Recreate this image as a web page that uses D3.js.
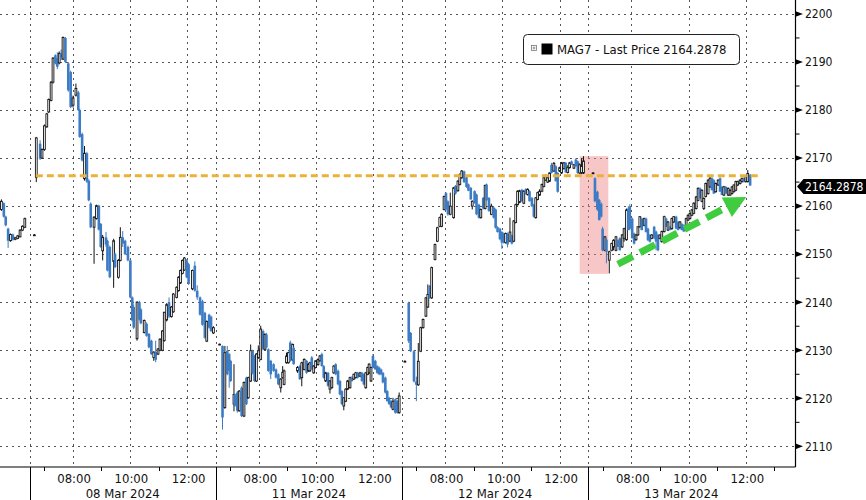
<!DOCTYPE html>
<html><head><meta charset="utf-8">
<script src="https://cdn.jsdelivr.net/npm/d3@7"></script>
<style>
html,body{margin:0;padding:0;background:#fff;}
svg{display:block;}
text{font-family:'DejaVu Sans Condensed','DejaVu Sans',sans-serif;font-stretch:condensed;fill:#111;}
</style></head><body>
<svg id="chart" width="866" height="500"></svg>
<script>
// ---------- DATA ----------
const dayLabels = ["07 Mar 2024","08 Mar 2024","11 Mar 2024","12 Mar 2024","13 Mar 2024"];
const timeTickLabels = ["08:00","10:00","12:00"];
const minorTickHours = ["07:00","09:00","11:00","13:00"];
const yTickValues = [2110,2120,2130,2140,2150,2160,2170,2180,2190,2200];
const seriesName = "MAG7 - Last Price";
const lastPrice = 2164.2878;
const refLevel = 2166.3;
const refLevelSpan = [["08 Mar 2024","06:43"],["13 Mar 2024","12:25"]];
const highlightBox = {from:["12 Mar 2024","12:42"], to:["13 Mar 2024","07:12"], low:2145.9, high:2170.4};
const trendArrow = {from:["13 Mar 2024","07:32",2147.9], to:["13 Mar 2024","12:01",2161.9]};

// bars: [time, open, high, low, close]
const mar07 = [
["12:01",2159.3,2161.4,2159.0,2161.0],["12:06",2160.6,2160.8,2157.6,2157.8],["12:10",2157.8,2158.0,2155.8,2156.0],
["12:15",2155.3,2155.5,2151.3,2152.8],["12:20",2152.8,2154.3,2152.6,2154.1],["12:25",2154.1,2154.3,2152.8,2153.0],
["12:30",2153.1,2153.6,2152.9,2153.4],["12:35",2153.3,2154.0,2153.1,2153.8],["12:40",2153.6,2155.2,2153.5,2155.0],
["12:45",2155.0,2156.0,2154.8,2155.8],["12:50",2155.6,2157.6,2155.4,2157.4]
];
const mar08 = [
["06:40",2154.0,2154.2,2153.8,2154.0],["06:44",2166.0,2174.4,2165.0,2174.2],["06:52",2173.0,2173.7,2169.6,2169.9],
["06:56",2170.0,2172.0,2169.8,2171.8],["07:01",2171.8,2177.0,2171.5,2176.7],["07:06",2176.5,2179.4,2176.3,2179.2],
["07:10",2179.6,2182.4,2179.4,2182.2],["07:15",2182.0,2186.0,2181.8,2185.8],["07:19",2185.8,2191.0,2185.5,2190.8],
["07:24",2191.4,2191.6,2189.5,2189.7],["07:28",2190.8,2192.0,2188.5,2189.0],["07:32",2189.8,2192.2,2189.5,2191.8],
["07:36",2191.8,2192.6,2190.4,2190.9],["07:40",2190.6,2195.3,2190.4,2195.1],["07:45",2195.0,2195.2,2189.8,2190.0],
["07:51",2189.7,2190.0,2183.8,2184.1],["07:56",2187.9,2188.2,2180.4,2180.6],["08:01",2181.0,2183.0,2180.5,2182.5],
["08:07",2183.1,2185.5,2182.8,2184.5],["08:12",2183.7,2184.0,2179.8,2180.0],["08:15",2180.0,2180.3,2174.2,2174.4],
["08:20",2175.0,2175.3,2169.3,2169.5],["08:25",2165.7,2172.5,2165.3,2171.0],["08:30",2171.0,2171.3,2164.8,2165.1],
["08:34",2165.3,2165.6,2161.0,2161.2],["08:38",2160.5,2160.8,2155.4,2155.6],["08:45",2155.6,2157.9,2148.0,2157.7],
["08:50",2157.4,2160.3,2157.2,2160.1],["08:55",2160.1,2160.3,2154.9,2155.1],["08:59",2156.3,2156.5,2151.3,2151.5],
["09:03",2150.7,2154.0,2148.7,2153.5],["09:10",2153.5,2154.6,2151.5,2152.0],["09:13",2152.8,2153.0,2146.4,2146.6],
["09:18",2151.5,2151.8,2145.0,2145.2],["09:26",2148.5,2153.2,2143.0,2152.8],["09:29",2150.0,2150.3,2147.1,2147.3],
["09:36",2145.2,2149.0,2144.9,2148.7],["09:40",2148.7,2155.6,2148.5,2153.5],["09:45",2153.5,2154.8,2151.5,2152.2],
["09:50",2152.8,2153.0,2149.8,2150.0],["09:56",2151.5,2151.8,2148.5,2148.7],["10:01",2148.7,2148.9,2140.8,2141.0],
["10:05",2141.0,2141.2,2136.0,2136.2],["10:08",2139.0,2139.5,2134.4,2134.7],["10:15",2132.4,2140.2,2132.0,2140.0],
["10:20",2140.0,2140.3,2136.2,2136.4],["10:23",2138.5,2138.8,2135.4,2135.6],["10:30",2133.7,2136.4,2133.5,2136.2],
["10:35",2135.5,2135.8,2132.8,2133.0],["10:40",2133.4,2133.6,2130.4,2130.6],["10:45",2132.0,2132.2,2129.0,2129.2],
["10:50",2128.5,2129.8,2127.8,2129.6],["10:54",2129.6,2132.0,2127.5,2128.0],["10:59",2129.2,2130.4,2129.0,2130.3],
["11:03",2130.0,2132.5,2129.8,2132.3],["11:08",2130.0,2134.2,2129.8,2134.0],["11:12",2132.0,2138.0,2131.8,2137.9],
["11:17",2136.3,2139.8,2136.0,2139.5],["11:22",2140.0,2141.0,2136.7,2137.0],["11:27",2137.0,2139.2,2136.8,2139.0],
["11:31",2138.0,2141.9,2137.8,2141.7],["11:38",2141.0,2143.3,2140.8,2143.1],["11:42",2142.4,2145.4,2142.2,2145.2],
["11:46",2144.0,2146.8,2143.8,2146.6],["11:50",2146.0,2148.9,2145.8,2148.7],["11:54",2146.7,2149.4,2146.5,2149.2],
["11:59",2148.7,2149.0,2145.0,2145.2],["12:03",2147.9,2148.2,2143.6,2143.8],["12:11",2142.8,2146.8,2142.5,2146.6],
["12:16",2147.6,2148.5,2142.2,2142.4],["12:21",2142.4,2143.5,2140.5,2141.0],["12:27",2141.0,2141.2,2137.2,2137.4],
["12:32",2140.2,2140.5,2135.1,2135.3],["12:37",2137.8,2138.0,2132.4,2132.6],["12:41",2131.9,2136.2,2131.7,2136.0],
["12:46",2137.4,2137.6,2134.5,2134.7],["12:50",2137.0,2137.2,2133.8,2134.0],["12:55",2133.6,2135.0,2133.4,2134.7]
];
const mar11 = [
["06:38",2131.25,2131.4,2131.1,2131.25],["06:44",2130.9,2131.0,2113.5,2116.0],["06:49",2118.1,2130.9,2117.8,2129.5],
["06:54",2129.9,2130.9,2124.8,2125.0],["06:58",2129.2,2129.4,2122.2,2125.7],["07:01",2127.8,2128.0,2123.4,2123.6],
["07:08",2118.8,2127.1,2117.3,2120.8],["07:10",2120.8,2121.0,2118.2,2118.4],["07:15",2121.2,2121.5,2117.0,2117.4],
["07:19",2117.4,2121.7,2117.2,2121.5],["07:24",2122.2,2122.5,2116.1,2116.3],["07:29",2116.3,2123.5,2116.1,2123.3],
["07:34",2124.3,2124.5,2118.6,2118.8],["07:38",2120.1,2124.5,2119.9,2124.3],["07:43",2123.6,2131.2,2123.4,2129.9],
["07:47",2129.9,2130.1,2125.0,2125.2],["07:51",2128.8,2129.0,2123.4,2123.6],["07:55",2123.6,2129.4,2123.4,2129.2],
["07:59",2128.5,2131.0,2128.2,2129.9],["08:04",2128.1,2135.1,2127.9,2134.4],["08:09",2134.0,2134.3,2130.0,2130.2],
["08:13",2130.2,2133.5,2130.0,2133.3],["08:16",2133.3,2133.6,2130.4,2130.6],["08:20",2130.2,2130.4,2125.5,2125.7],
["08:25",2127.8,2128.0,2124.0,2125.0],["08:31",2127.1,2127.3,2125.5,2125.7],["08:36",2126.0,2126.2,2124.1,2124.3],
["08:41",2125.0,2125.2,2122.7,2122.9],["08:46",2122.2,2124.2,2121.2,2124.0],["08:50",2124.3,2126.7,2124.1,2125.4],
["08:53",2122.9,2126.0,2122.7,2125.7],["08:58",2127.4,2129.5,2127.2,2128.8],["09:02",2127.4,2129.7,2127.2,2129.5],
["09:06",2131.6,2132.0,2127.6,2127.8],["09:11",2128.0,2131.4,2127.8,2131.2],["09:13",2130.5,2130.7,2127.0,2127.1],
["09:21",2125.7,2126.7,2125.3,2126.4],["09:26",2126.7,2127.0,2123.8,2124.0],["09:30",2124.3,2127.6,2122.5,2127.4],
["09:35",2126.0,2128.3,2125.8,2128.1],["09:40",2127.8,2128.0,2125.1,2125.3],["09:44",2125.7,2127.3,2125.5,2127.1],
["09:47",2125.7,2127.6,2125.5,2127.4],["09:51",2128.5,2128.8,2126.0,2126.0],["09:55",2125.3,2126.9,2125.1,2126.7],
["09:59",2126.4,2127.9,2126.2,2127.8],["10:04",2127.0,2128.3,2126.8,2128.1],["10:08",2127.8,2129.0,2127.6,2128.8],
["10:12",2129.2,2129.5,2126.6,2126.7],["10:16",2126.7,2126.9,2124.1,2124.3],["10:20",2123.6,2125.5,2123.4,2125.3],
["10:25",2125.3,2125.5,2122.4,2122.6],["10:29",2121.9,2123.8,2121.0,2123.6],["10:33",2122.2,2124.5,2122.0,2124.3],
["10:37",2125.3,2126.9,2125.1,2126.7],["10:41",2127.1,2127.3,2124.8,2125.0],["10:46",2125.7,2126.0,2122.7,2122.9],
["10:50",2123.6,2123.8,2120.6,2120.8],["10:54",2121.5,2121.7,2118.6,2118.8],["10:58",2118.4,2120.2,2117.5,2120.1],
["11:02",2119.4,2122.1,2119.2,2121.9],["11:06",2121.9,2123.8,2121.7,2123.6],["11:11",2122.2,2124.5,2122.0,2124.3],
["11:15",2124.3,2124.6,2123.4,2123.6],["11:19",2124.0,2125.1,2123.8,2125.0],["11:23",2124.3,2125.5,2124.1,2125.3],
["11:27",2125.3,2125.5,2124.1,2124.3],["11:32",2124.6,2125.5,2124.4,2125.3],["11:36",2125.3,2125.5,2123.4,2123.6],
["11:40",2125.0,2125.2,2122.7,2122.9],["11:44",2122.2,2125.5,2122.0,2125.3],["11:48",2125.0,2126.6,2124.8,2126.4],
["11:51",2125.3,2127.3,2125.1,2127.1],["11:55",2123.6,2126.6,2123.4,2126.4],["11:59",2128.8,2129.2,2126.2,2126.4],
["12:04",2127.8,2128.0,2126.0,2126.0],["12:08",2126.7,2126.9,2125.1,2125.3],["12:12",2126.4,2126.6,2124.8,2125.0],
["12:16",2126.0,2126.2,2124.8,2125.0],["12:20",2125.3,2125.5,2123.1,2123.3],["12:25",2124.3,2124.5,2121.0,2121.2],
["12:29",2121.5,2121.7,2119.3,2119.4],["12:33",2120.1,2120.3,2118.6,2118.8],["12:37",2119.4,2119.6,2117.9,2118.1],
["12:41",2117.7,2120.1,2117.5,2119.4],["12:46",2119.8,2120.0,2116.8,2117.0],["12:50",2119.4,2119.6,2116.8,2117.0],
["12:54",2117.0,2121.2,2116.8,2120.5]
];
const mar12 = [
["06:36",2127.7,2127.9,2127.5,2127.7],["06:44",2139.9,2140.1,2131.5,2131.9],["06:48",2133.6,2133.8,2129.6,2129.8],
["06:55",2129.8,2130.0,2123.3,2123.5],["07:00",2123.5,2124.5,2119.4,2122.8],["07:04",2122.8,2131.5,2122.6,2127.7],
["07:09",2129.8,2134.9,2129.6,2134.7],["07:14",2134.7,2136.6,2134.5,2136.4],["07:20",2137.1,2141.1,2136.9,2140.9],
["07:24",2139.0,2143.7,2138.8,2141.6],["07:28",2143.4,2143.6,2140.7,2140.9],["07:32",2140.9,2147.4,2140.7,2147.2],
["07:39",2148.9,2152.2,2148.7,2152.0],["07:44",2152.7,2155.7,2152.5,2155.5],["07:49",2155.8,2157.8,2155.6,2157.6],
["07:53",2155.8,2158.5,2155.6,2158.3],["07:58",2159.3,2162.2,2159.1,2162.0],["08:02",2162.7,2162.9,2159.1,2159.3],
["08:06",2161.0,2161.2,2158.0,2158.3],["08:11",2158.3,2162.8,2158.1,2160.0],["08:18",2157.6,2164.0,2157.4,2163.8],
["08:22",2164.2,2164.4,2162.4,2162.6],["08:27",2163.2,2165.4,2163.0,2165.2],["08:31",2164.5,2166.8,2164.3,2166.6],
["08:35",2165.9,2167.5,2165.7,2167.3],["08:40",2167.2,2167.4,2164.8,2165.0],["08:45",2166.0,2166.2,2163.8,2164.0],
["08:49",2164.5,2164.7,2163.1,2163.2],["08:54",2163.8,2164.0,2161.3,2161.4],["08:57",2160.0,2161.2,2159.3,2161.0],
["09:02",2163.1,2163.3,2160.5,2160.6],["09:06",2162.4,2162.6,2158.1,2158.3],["09:11",2160.3,2160.5,2157.4,2157.6],
["09:15",2157.6,2159.5,2157.4,2159.3],["09:20",2161.7,2161.9,2159.3,2159.5],["09:24",2159.5,2164.5,2159.3,2164.3],
["09:27",2164.5,2164.7,2161.0,2161.2],["09:32",2161.7,2161.9,2158.8,2159.0],["09:37",2158.3,2160.5,2158.1,2160.0],
["09:42",2159.7,2159.9,2157.4,2157.6],["09:46",2159.3,2159.5,2155.3,2155.5],["09:50",2155.6,2155.8,2154.5,2154.6],
["09:55",2155.3,2155.5,2152.9,2153.1],["09:59",2154.6,2154.8,2151.1,2152.4],["10:03",2154.3,2154.5,2152.2,2152.4],
["10:07",2152.4,2154.5,2152.2,2154.3],["10:11",2154.3,2154.5,2151.4,2152.0],["10:16",2152.7,2157.6,2152.5,2154.6],
["10:20",2153.9,2154.1,2152.0,2152.2],["10:24",2152.7,2157.1,2152.5,2156.9],["10:28",2156.6,2160.5,2156.4,2160.3],
["10:32",2160.3,2163.3,2160.1,2163.1],["10:36",2160.8,2163.4,2160.6,2163.2],["10:41",2163.4,2163.6,2160.8,2161.0],
["10:45",2160.6,2163.3,2160.4,2163.1],["10:49",2163.5,2163.7,2162.4,2162.6],["10:53",2162.4,2163.7,2162.2,2163.5],
["10:57",2163.1,2163.3,2161.0,2161.0],["11:02",2161.7,2161.9,2159.8,2160.0],["11:06",2160.3,2160.5,2157.6,2157.8],
["11:10",2157.6,2161.9,2157.4,2161.7],["11:14",2161.4,2163.0,2161.2,2162.8],["11:18",2162.3,2163.5,2162.1,2163.1],
["11:23",2163.1,2164.7,2162.9,2164.5],["11:27",2164.1,2166.1,2163.9,2165.9],["11:31",2165.4,2166.6,2165.2,2166.3],
["11:35",2165.0,2166.3,2164.8,2165.9],["11:39",2165.2,2167.0,2165.0,2166.9],["11:43",2168.6,2169.0,2166.8,2166.9],
["11:48",2167.3,2169.2,2167.1,2168.9],["11:52",2168.3,2168.5,2165.1,2165.2],["11:56",2166.9,2167.1,2162.8,2163.0],
["12:00",2167.3,2168.2,2167.1,2168.0],["12:04",2166.9,2169.2,2166.7,2169.0],["12:09",2167.8,2169.2,2167.6,2169.0],
["12:13",2169.0,2169.2,2167.0,2167.0],["12:17",2167.0,2168.5,2166.8,2168.0],["12:21",2168.0,2169.2,2167.8,2169.0],
["12:25",2169.3,2169.5,2168.6,2168.6],["12:30",2167.9,2168.8,2167.7,2168.6],["12:34",2169.7,2170.0,2168.2,2168.3],
["12:38",2169.3,2169.5,2166.7,2166.9],["12:42",2166.9,2168.9,2166.7,2168.6],["12:46",2166.9,2170.0,2166.7,2168.3],
["12:50",2166.9,2170.4,2166.7,2169.4]
];
const mar13 = [
["06:40",2166.9,2167.1,2166.7,2166.9],["06:44",2165.8,2166.0,2160.8,2161.0],["06:49",2163.0,2163.2,2159.0,2159.3],
["06:53",2161.3,2161.5,2157.0,2157.1],["06:57",2160.5,2160.8,2157.6,2157.8],["07:00",2155.3,2155.7,2150.6,2150.8],
["07:05",2150.8,2153.8,2150.6,2153.6],["07:08",2153.0,2153.3,2148.1,2150.5],["07:14",2148.75,2150.7,2146.0,2150.5],
["07:19",2150.8,2152.4,2150.6,2152.2],["07:23",2151.5,2153.1,2150.8,2152.9],["07:28",2150.8,2153.8,2150.6,2153.6],
["07:32",2152.9,2153.1,2151.5,2151.5],["07:36",2153.3,2153.5,2150.8,2150.8],["07:41",2151.5,2154.2,2151.3,2154.0],
["07:45",2153.3,2155.5,2152.6,2155.3],["07:50",2153.0,2159.5,2152.8,2159.2],["07:54",2159.5,2160.0,2155.0,2155.0],
["07:57",2159.8,2160.4,2155.0,2155.3],["08:02",2157.4,2157.6,2153.3,2153.3],["08:06",2154.3,2154.5,2152.0,2152.2],
["08:10",2153.0,2154.2,2152.8,2154.0],["08:14",2154.0,2155.8,2153.8,2155.7],["08:18",2155.7,2157.9,2155.5,2157.8],
["08:22",2157.4,2157.6,2155.0,2155.0],["08:27",2156.0,2157.6,2155.8,2157.4],["08:31",2157.4,2157.6,2154.5,2154.6],
["08:35",2155.3,2155.5,2152.7,2152.9],["08:39",2154.0,2154.2,2152.4,2152.6],["08:43",2153.3,2154.2,2153.1,2154.0],
["08:48",2155.7,2155.9,2153.1,2153.3],["08:52",2154.7,2154.9,2150.8,2152.6],["08:56",2154.0,2154.2,2150.6,2150.8],
["09:00",2153.3,2154.1,2153.1,2154.0],["09:04",2152.6,2154.9,2152.4,2154.7],["09:09",2154.7,2158.0,2154.5,2157.8],
["09:13",2157.4,2157.6,2155.7,2155.7],["09:17",2155.0,2156.9,2154.8,2156.7],["09:21",2155.7,2155.9,2155.0,2155.0],
["09:25",2155.3,2157.6,2155.1,2157.4],["09:29",2156.7,2157.9,2156.5,2157.8],["09:34",2157.8,2158.0,2155.3,2155.3],
["09:38",2156.7,2156.9,2155.0,2155.0],["09:42",2155.5,2156.9,2155.3,2156.7],["09:46",2156.3,2156.5,2155.0,2155.0],
["09:50",2156.0,2156.2,2154.7,2154.7],["09:55",2155.3,2157.6,2155.1,2157.4],["09:59",2157.1,2158.3,2156.9,2158.1],
["10:03",2157.4,2158.7,2157.2,2158.5],["10:07",2158.1,2159.4,2157.9,2159.2],["10:11",2158.5,2160.8,2158.3,2160.6],
["10:16",2159.5,2162.1,2159.3,2161.9],["10:20",2161.2,2163.9,2161.0,2163.7],["10:24",2163.7,2163.9,2161.6,2161.6],
["10:28",2161.0,2163.5,2160.8,2163.3],["10:32",2159.5,2161.8,2159.2,2161.6],["10:36",2162.0,2164.9,2161.8,2164.7],
["10:41",2162.6,2165.6,2162.4,2165.4],["10:45",2164.0,2166.1,2163.8,2165.8],["10:49",2165.8,2166.0,2163.3,2163.3],
["10:53",2165.4,2165.6,2162.6,2162.6],["10:57",2163.0,2164.9,2162.8,2164.7],["11:02",2164.4,2165.6,2164.2,2165.4],
["11:06",2165.8,2166.0,2163.0,2163.0],["11:10",2164.0,2164.2,2162.3,2162.3],["11:14",2162.3,2164.2,2162.1,2164.0],
["11:18",2164.0,2164.2,2162.6,2162.6],["11:23",2162.3,2163.9,2162.1,2163.7],["11:27",2162.3,2163.5,2162.1,2163.3],
["11:31",2162.6,2164.2,2162.4,2164.0],["11:35",2163.0,2164.5,2162.8,2164.4],["11:39",2163.3,2165.3,2163.1,2165.1],
["11:43",2164.4,2165.3,2164.2,2165.1],["11:48",2164.7,2165.6,2164.5,2165.4],["11:52",2165.1,2165.9,2164.9,2165.8],
["11:56",2165.8,2166.0,2164.9,2165.1],["12:00",2165.1,2166.3,2164.9,2166.1],["12:04",2165.1,2167.5,2164.9,2166.8],
["12:09",2166.5,2166.7,2164.2,2164.2878]
];
const seriesByDay = [mar07, mar08, mar11, mar12, mar13];

// ---------- LAYOUT ----------
const W = 866, H = 500;
const plotRight = 795.5, plotBottom = 467;
const sessionStart = 6.5, sessionLen = 6.5;   // 06:30 - 13:00 trading session
const hrs = s => { const [h,m] = s.split(":").map(Number); return h + m/60; };
const dayIdx = d => dayLabels.indexOf(d) - 1;        // 08 Mar = 0
const tradeU = (d, t) => dayIdx(d)*sessionLen + (hrs(t) - sessionStart);

const x = d3.scaleLinear().domain([tradeU("07 Mar 2024","11:58"), tradeU("13 Mar 2024","13:44")]).range([0, plotRight]);
const y = d3.scaleLinear().domain([2105.7, 2202.9]).range([plotBottom, 0]);

const svg = d3.select("#chart");
svg.append("rect").attr("width",W).attr("height",H).attr("fill","#fff");

// ---------- GRID ----------
const grid = svg.append("g").attr("stroke","#555").attr("stroke-width",1).attr("stroke-dasharray","2,4").attr("fill","none");
grid.selectAll("line.h").data(yTickValues).join("line").attr("class","h")
  .attr("x1",0).attr("x2",plotRight).attr("y1",d=>Math.round(y(d))+0.5).attr("y2",d=>Math.round(y(d))+0.5);
const vGrid = [];
dayLabels.slice(1).forEach(d => {
  vGrid.push(tradeU(d,"06:30"));
  timeTickLabels.forEach(t => vGrid.push(tradeU(d,t)));
});
grid.selectAll("line.v").data(vGrid).join("line").attr("class","v")
  .attr("y1",0).attr("y2",plotBottom).attr("x1",d=>Math.round(x(d))+0.5).attr("x2",d=>Math.round(x(d))+0.5);

// ---------- HIGHLIGHT BOX ----------
const hx0 = x(tradeU(...highlightBox.from)), hx1 = x(tradeU(...highlightBox.to));
svg.append("rect").attr("x",hx0).attr("width",hx1-hx0)
  .attr("y",y(highlightBox.high)).attr("height",y(highlightBox.low)-y(highlightBox.high))
  .attr("fill","#ee8080").attr("fill-opacity",0.45);

// ---------- CANDLES ----------
const bars = [];
seriesByDay.forEach((arr,i) => arr.forEach(b => bars.push({day:dayLabels[i], t:b[0], o:b[1], h:b[2], l:b[3], c:b[4]})));
const upCol = "#111", dnCol = "#3d7cc4";
const cg = svg.append("g");
bars.forEach(b => {
  const cx = x(tradeU(b.day,b.t));
  const up = b.c >= b.o;
  const col = up ? upCol : dnCol;
  cg.append("line").attr("x1",cx).attr("x2",cx).attr("y1",y(b.h)).attr("y2",y(b.l))
    .attr("stroke",col).attr("stroke-width",1);
  const top = y(Math.max(b.o,b.c)), bot = y(Math.min(b.o,b.c));
  const hgt = Math.max(bot-top, 0.8);
  if (up) {
    cg.append("rect").attr("x",cx-0.9).attr("width",1.8).attr("y",top).attr("height",hgt)
      .attr("fill","#fff").attr("stroke",upCol).attr("stroke-width",0.9);
  } else {
    cg.append("rect").attr("x",cx-1.3).attr("width",2.6).attr("y",top).attr("height",hgt)
      .attr("fill",dnCol).attr("stroke","none");
  }
});

// ---------- REFERENCE LEVEL ----------
svg.append("line")
  .attr("x1",x(tradeU(...refLevelSpan[0]))).attr("x2",x(tradeU(...refLevelSpan[1])))
  .attr("y1",y(refLevel)).attr("y2",y(refLevel))
  .attr("stroke","#ebb23a").attr("stroke-width",3).attr("stroke-dasharray","7,4");

// ---------- TREND ARROW ----------
{
  const p0 = [x(tradeU(trendArrow.from[0],trendArrow.from[1])), y(trendArrow.from[2])];
  const p1 = [x(tradeU(trendArrow.to[0],trendArrow.to[1])), y(trendArrow.to[2])];
  const dx = p1[0]-p0[0], dy = p1[1]-p0[1], len = Math.hypot(dx,dy);
  const ux = dx/len, uy = dy/len, px = -uy, py = ux;
  const headLen = 22, headW = 11;
  const b = [p1[0]-ux*headLen, p1[1]-uy*headLen];
  const green = "#3fcc3f";
  svg.append("line").attr("x1",p0[0]).attr("y1",p0[1]).attr("x2",b[0]+ux*2).attr("y2",b[1]+uy*2)
    .attr("stroke",green).attr("stroke-width",7).attr("stroke-dasharray","17,8");
  svg.append("path").attr("d",`M${p1[0]},${p1[1]}L${b[0]+px*headW},${b[1]+py*headW}L${b[0]-px*headW},${b[1]-py*headW}Z`)
    .attr("fill",green);
}

// ---------- RIGHT AXIS ----------
const ax = svg.append("g");
ax.append("line").attr("x1",plotRight).attr("x2",plotRight).attr("y1",0).attr("y2",plotBottom).attr("stroke","#000").attr("stroke-width",1.2);
d3.range(2110, 2201, 5).forEach(v => {
  if (v % 10 !== 0) ax.append("line").attr("x1",plotRight).attr("x2",plotRight+4).attr("y1",y(v)).attr("y2",y(v)).attr("stroke","#000");
});
yTickValues.forEach(v => {
  const yy = y(v);
  ax.append("path").attr("d",`M${plotRight},${yy-2.8}L${plotRight+7.5},${yy}L${plotRight},${yy+2.8}Z`).attr("fill","#000");
  ax.append("text").attr("x",plotRight+9.5).attr("y",yy).attr("dy","0.36em").attr("font-size",12).text(v);
});
// last price tag
{
  const yy = y(lastPrice) + 1;
  ax.append("path").attr("d",`M${plotRight+1.5},${yy}L${plotRight+8},${yy-7.5}L${W},${yy-7.5}L${W},${yy+7.5}L${plotRight+8},${yy+7.5}Z`).attr("fill","#000");
  ax.append("text").attr("x",plotRight+9.5).attr("y",yy).attr("dy","0.36em").attr("font-size",12)
    .style("fill","#fff").text(lastPrice.toFixed(4));
}

// ---------- BOTTOM AXIS ----------
const bx = svg.append("g");
bx.append("line").attr("x1",0).attr("x2",plotRight).attr("y1",plotBottom).attr("y2",plotBottom).attr("stroke","#000").attr("stroke-width",1.2);
dayLabels.slice(1).forEach(d => {
  const sx = Math.round(x(tradeU(d,"06:30")))+0.5;
  bx.append("line").attr("x1",sx).attr("x2",sx).attr("y1",plotBottom).attr("y2",H).attr("stroke","#000");
  minorTickHours.forEach(t => {
    const tx = Math.round(x(tradeU(d,t)))+0.5;
    bx.append("line").attr("x1",tx).attr("x2",tx).attr("y1",plotBottom).attr("y2",plotBottom+4).attr("stroke","#000");
  });
  timeTickLabels.forEach(t => {
    bx.append("text").attr("x",x(tradeU(d,t))+1.5).attr("y",483).attr("text-anchor","middle").attr("font-size",13).text(t);
  });
  bx.append("text").attr("x",x(tradeU(d,"09:45"))).attr("y",498).attr("text-anchor","middle").attr("font-size",13).text(d);
});

// ---------- LEGEND ----------
{
  const lg = svg.append("g");
  lg.append("rect").attr("x",523.5).attr("y",34.5).attr("width",216).attr("height",30).attr("rx",4)
    .attr("fill","#fff").attr("stroke","#222").attr("stroke-width",1);
  lg.append("rect").attr("x",531.5).attr("y",45.5).attr("width",5).attr("height",5).attr("fill","#fff").attr("stroke","#777").attr("stroke-width",0.8);
  lg.append("path").attr("d","M532.5,48H535.5M534,46.5V49.5").attr("stroke","#777").attr("stroke-width",0.8);
  lg.append("rect").attr("x",541.5).attr("y",43.5).attr("width",11).attr("height",11).attr("fill","#000");
  lg.append("text").attr("x",557).attr("y",49.5).attr("dy","0.36em").attr("font-size",13)
    .text(`${seriesName} ${lastPrice.toFixed(4)}`);
}
</script>
</body></html>
